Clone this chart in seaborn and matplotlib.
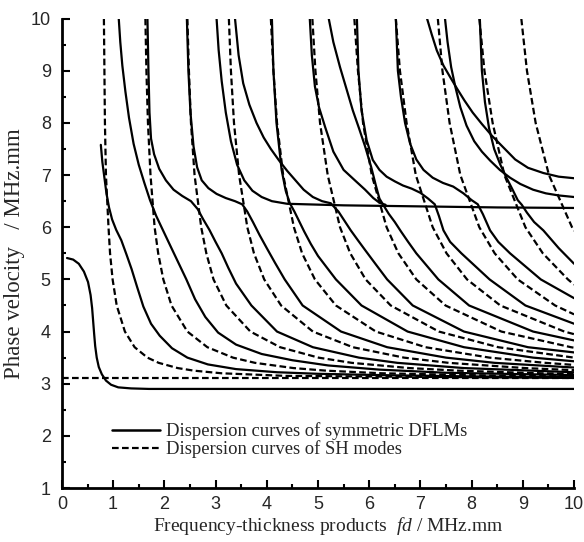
import numpy as np
import pandas as pd
import seaborn as sns
import matplotlib.pyplot as plt
from matplotlib.lines import Line2D
from matplotlib.ticker import MultipleLocator

# SH modes: fd read at shared phase-velocity levels, plus value at the right edge (fd = 10)
sh_cp = [10, 9, 8, 7, 6, 5.5, 5, 4.5, 4, 3.7, 3.5, 3.4, 3.3, 3.25, 3.2, 3.15]
sh1_fd = [0.82, 0.83, 0.84, 0.86, 0.91, 0.94, 0.99, 1.07, 1.23, 1.42, 1.67, 1.89, 2.26, 2.58, 3.12, 4.37]
sh2_fd = [1.63, 1.65, 1.68, 1.73, 1.81, 1.88, 1.98, 2.14, 2.45, 2.84, 3.34, 3.77, 4.52, 5.16, 6.25, 8.73]
sh3_fd = [2.45, 2.48, 2.52, 2.59, 2.72, 2.82, 2.96, 3.21, 3.68, 4.26, 5.01, 5.66, 6.78, 7.74, 9.37]
sh4_fd = [3.26, 3.30, 3.36, 3.46, 3.62, 3.75, 3.95, 4.28, 4.90, 5.68, 6.68, 7.55, 9.04]
sh5_fd = [4.08, 4.13, 4.20, 4.32, 4.53, 4.69, 4.94, 5.35, 6.13, 7.10, 8.35, 9.44]
sh6_fd = [4.89, 4.95, 5.04, 5.19, 5.43, 5.63, 5.93, 6.42, 7.36, 8.52]
sh7_fd = [5.71, 5.78, 5.88, 6.05, 6.34, 6.57, 6.92, 7.49, 8.58, 9.94]
sh8_fd = [6.52, 6.60, 6.73, 6.91, 7.24, 7.51, 7.91, 8.56, 9.81]
sh9_fd = [7.34, 7.43, 7.57, 7.78, 8.15, 8.45, 8.90, 9.63]
sh10_fd = [8.15, 8.25, 8.41, 8.64, 9.05, 9.39, 9.88]
sh11_fd = [8.97, 9.08, 9.25, 9.51, 9.96]
sh_cp_at_10 = [3.11, 3.14, 3.19, 3.26, 3.36, 3.50, 3.69, 3.95, 4.33, 4.90, 5.93]
sh0_fd = [0.0, 10.0]
sh0_cp = [3.10, 3.10]

# symmetric DFLM curves
s0_fd = [0.10, 0.22, 0.33, 0.43, 0.51, 0.56, 0.59, 0.61, 0.63, 0.65, 0.68, 0.72, 0.78, 0.86, 0.96, 1.10, 1.35, 1.70, 10.0]
s0_cp = [5.41, 5.38, 5.30, 5.15, 4.95, 4.70, 4.45, 4.20, 3.95, 3.72, 3.50, 3.32, 3.18, 3.06, 2.98, 2.93, 2.91, 2.90, 2.90]
s1_fd = [0.76, 0.79, 0.83, 0.87, 0.92, 0.98, 1.06, 1.16, 1.26, 1.36, 1.47, 1.59, 1.74, 1.91, 2.15, 2.45, 2.85, 3.4, 4.2, 5.0, 6.5, 8.0, 10.0]
s1_cp = [7.58, 7.25, 6.95, 6.65, 6.38, 6.15, 5.95, 5.75, 5.48, 5.2, 4.85, 4.48, 4.15, 3.92, 3.68, 3.5, 3.37, 3.28, 3.22, 3.19, 3.16, 3.14, 3.125]
a_fd = [1.11, 1.14, 1.18, 1.24, 1.31, 1.40, 1.50, 1.61, 1.72, 1.84, 1.96, 2.10, 2.26, 2.43, 2.60, 2.80, 3.05, 3.40, 3.90, 4.50, 5.20, 6.20, 7.50, 10.0]
a_cp = [10.0, 9.55, 9.1, 8.6, 8.1, 7.6, 7.2, 6.85, 6.52, 6.22, 5.97, 5.68, 5.35, 5.0, 4.62, 4.28, 3.98, 3.75, 3.57, 3.45, 3.35, 3.27, 3.21, 3.165]
b_fd = [1.67, 1.69, 1.71, 1.74, 1.80, 1.90, 2.03, 2.18, 2.35, 2.52, 2.65, 2.76, 2.88, 3.00, 3.12, 3.25, 3.40, 3.70, 4.20, 4.90, 5.80, 6.55, 7.85, 10.0]
b_cp = [10.0, 9.0, 8.2, 7.7, 7.4, 7.12, 6.9, 6.72, 6.6, 6.5, 6.35, 6.15, 5.95, 5.72, 5.5, 5.22, 4.92, 4.5, 4.0, 3.7, 3.5, 3.4, 3.3, 3.22]
c_fd = [2.44, 2.47, 2.51, 2.57, 2.64, 2.73, 2.86, 3.02, 3.20, 3.38, 3.52, 3.62, 3.73, 3.86, 4.00, 4.16, 4.35, 4.70, 5.45, 6.35, 7.50, 8.45, 10.0]
c_cp = [10.0, 9.0, 8.2, 7.55, 7.15, 6.9, 6.75, 6.64, 6.56, 6.5, 6.44, 6.3, 6.1, 5.85, 5.6, 5.32, 5.0, 4.5, 4.0, 3.7, 3.5, 3.4, 3.31]
d_fd = [3.02, 3.06, 3.12, 3.20, 3.30, 3.42, 3.56, 3.72, 3.90, 4.10, 4.40, 5.50, 7.00, 8.50, 10.0]
d_cp = [10.0, 9.4, 8.8, 8.2, 7.65, 7.2, 6.9, 6.7, 6.58, 6.5, 6.45, 6.42, 6.40, 6.38, 6.37]
e_fd = [3.38, 3.45, 3.54, 3.66, 3.80, 3.94, 4.08, 4.24, 4.40, 4.56, 4.72, 4.90, 5.08, 5.25, 5.40, 5.52, 5.64, 5.78, 5.93, 6.12, 6.35, 6.85, 7.85, 9.10, 10.0]
e_cp = [10.0, 9.3, 8.76, 8.35, 8.0, 7.72, 7.5, 7.28, 7.08, 6.9, 6.72, 6.58, 6.5, 6.46, 6.3, 6.12, 5.94, 5.75, 5.55, 5.3, 5.0, 4.5, 4.0, 3.7, 3.6]
f_fd = [4.10, 4.13, 4.19, 4.29, 4.37, 4.45, 4.54, 4.63, 4.73, 4.86, 5.00, 5.35, 5.85, 6.75, 7.85, 9.20, 10.0]
f_cp = [10.0, 9.0, 8.0, 7.1, 6.7, 6.46, 6.3, 6.12, 5.92, 5.68, 5.45, 5.0, 4.5, 4.0, 3.7, 3.5, 3.43]
g_fd = [4.84, 4.88, 4.94, 5.02, 5.14, 5.30, 5.50, 5.72, 5.92, 6.08, 6.20, 6.32]
g_cp = [10.0, 9.3, 8.7, 8.3, 7.92, 7.45, 7.1, 6.9, 6.72, 6.56, 6.47, 6.43]
h_fd = [5.21, 5.30, 5.43, 5.56, 5.68, 5.80, 5.92, 6.04, 6.13, 6.20, 6.28, 6.38, 6.50, 6.62, 6.76, 6.92, 7.35, 7.95, 9.20, 10.0]
h_cp = [10.0, 9.55, 9.07, 8.64, 8.24, 7.9, 7.55, 7.15, 6.8, 6.55, 6.42, 6.26, 6.1, 5.92, 5.72, 5.5, 5.0, 4.5, 4.0, 3.83]
i_fd = [5.76, 5.79, 5.85, 5.95, 6.07, 6.20, 6.34, 6.50, 6.66, 6.83, 7.00, 7.15, 7.28, 7.36, 7.45, 7.58, 7.80, 8.35, 9.05, 10.0]
i_cp = [10.0, 9.0, 8.24, 7.67, 7.29, 7.1, 6.97, 6.88, 6.8, 6.74, 6.66, 6.55, 6.44, 6.22, 5.94, 5.72, 5.5, 5.0, 4.5, 4.15]
j_fd = [6.52, 6.56, 6.62, 6.70, 6.80, 6.92, 7.06, 7.24, 7.44, 7.64, 7.84, 8.00, 8.12, 8.22, 8.36, 8.52, 8.75, 9.35, 10.0]
j_cp = [10.0, 9.0, 8.5, 8.0, 7.6, 7.3, 7.1, 6.95, 6.85, 6.78, 6.65, 6.52, 6.44, 6.25, 5.94, 5.72, 5.5, 5.0, 4.64]
k_fd = [7.13, 7.22, 7.32, 7.45, 7.58, 7.72, 7.86, 8.02, 8.20, 8.40, 8.60, 8.85, 9.10, 9.40, 9.70, 10.0]
k_cp = [10.0, 9.7, 9.39, 9.1, 8.88, 8.65, 8.43, 8.2, 7.98, 7.75, 7.55, 7.3, 7.14, 7.04, 6.97, 6.94]
l_fd = [7.48, 7.53, 7.60, 7.68, 7.78, 7.90, 8.05, 8.20, 8.36, 8.55, 8.75, 8.95, 9.20, 9.45, 9.70, 10.0]
l_cp = [10.0, 9.55, 9.07, 8.7, 8.3, 7.95, 7.65, 7.45, 7.28, 7.1, 6.95, 6.83, 6.72, 6.65, 6.61, 6.58]
m_fd = [8.16, 8.20, 8.26, 8.34, 8.44, 8.56, 8.68, 8.80, 8.90, 8.98, 9.08, 9.22, 9.40, 9.70, 10.0]
m_cp = [10.0, 9.0, 8.4, 7.9, 7.5, 7.2, 6.95, 6.72, 6.52, 6.43, 6.28, 6.1, 5.94, 5.6, 5.3]

legend_labels = ['Dispersion curves of symmetric DFLMs', 'Dispersion curves of SH modes']

# long table, one unit per curve
frames = []
sh_fds = [sh1_fd, sh2_fd, sh3_fd, sh4_fd, sh5_fd, sh6_fd, sh7_fd, sh8_fd, sh9_fd, sh10_fd, sh11_fd]
for n, (fd, edge) in enumerate(zip(sh_fds, sh_cp_at_10), start=1):
    frames.append(pd.DataFrame({'fd': fd + [10.0], 'cp': sh_cp[:len(fd)] + [edge],
                                'curve': f'SH{n}', 'kind': 'SH'}))
frames.append(pd.DataFrame({'fd': sh0_fd, 'cp': sh0_cp, 'curve': 'SH0', 'kind': 'SH'}))
solid = {'S0': (s0_fd, s0_cp), 'S1': (s1_fd, s1_cp), 'A': (a_fd, a_cp), 'B': (b_fd, b_cp),
         'C': (c_fd, c_cp), 'D': (d_fd, d_cp), 'E': (e_fd, e_cp), 'F': (f_fd, f_cp),
         'G': (g_fd, g_cp), 'H': (h_fd, h_cp), 'I': (i_fd, i_cp), 'J': (j_fd, j_cp),
         'K': (k_fd, k_cp), 'L': (l_fd, l_cp), 'M': (m_fd, m_cp)}
for name, (fd, cp) in solid.items():
    frames.append(pd.DataFrame({'fd': fd, 'cp': cp, 'curve': name, 'kind': 'DFLM'}))
df = pd.concat(frames, ignore_index=True)

sns.set_style('ticks')
plt.rcParams['font.family'] = ['Liberation Serif', 'DejaVu Serif']
plt.rcParams['mathtext.fontset'] = 'custom'
plt.rcParams['mathtext.rm'] = 'Liberation Serif'
plt.rcParams['mathtext.it'] = 'Liberation Serif:italic'

fig = plt.figure(figsize=(5.84, 5.42), dpi=100)
ax = fig.add_axes([0.106, 0.0996, 0.877, 0.866])

dash_map = {'DFLM': '', 'SH': (3.0, 1.5)}
sns.lineplot(data=df, x='fd', y='cp', units='curve', style='kind', dashes=dash_map,
             estimator=None, sort=False, color='black', linewidth=1.6, legend=False, ax=ax)

ax.set_xlim(0, 10)
ax.set_ylim(1, 10)
ax.xaxis.set_major_locator(MultipleLocator(1))
ax.xaxis.set_minor_locator(MultipleLocator(0.5))
ax.yaxis.set_major_locator(MultipleLocator(1))
ax.yaxis.set_minor_locator(MultipleLocator(0.5))
ax.tick_params(which='both', direction='in', width=1.5, color='black')
ax.tick_params(which='major', length=6)
ax.tick_params(which='minor', length=3)
ax.tick_params(axis='x', which='major', pad=6)
ax.tick_params(axis='y', which='major', pad=8)
for lab in ax.get_xticklabels() + ax.get_yticklabels():
    lab.set_family('Liberation Sans')
    lab.set_fontsize(13)
sns.despine(ax=ax)
for side in ['left', 'bottom']:
    ax.spines[side].set_linewidth(2)
    ax.spines[side].set_color('black')

ax.set_xlabel('Frequency-thickness products  $fd$ / MHz.mm', fontsize=14, labelpad=4)
ax.xaxis.set_label_coords(0.52, -0.058)
ax.set_ylabel('Phase velocity   / MHz.mm', fontsize=16.5, labelpad=4)

handles = [Line2D([], [], color='black', lw=1.8),
           Line2D([], [], color='black', lw=1.6, dashes=(3.0, 1.5))]
ax.legend(handles, legend_labels, loc='upper left', bbox_to_anchor=(0.098, 0.14),
          frameon=False, fontsize=13.4, handlelength=2.6, handletextpad=0.3,
          labelspacing=0.0, borderpad=0, borderaxespad=0)

fig.savefig('out.png', dpi=100)
